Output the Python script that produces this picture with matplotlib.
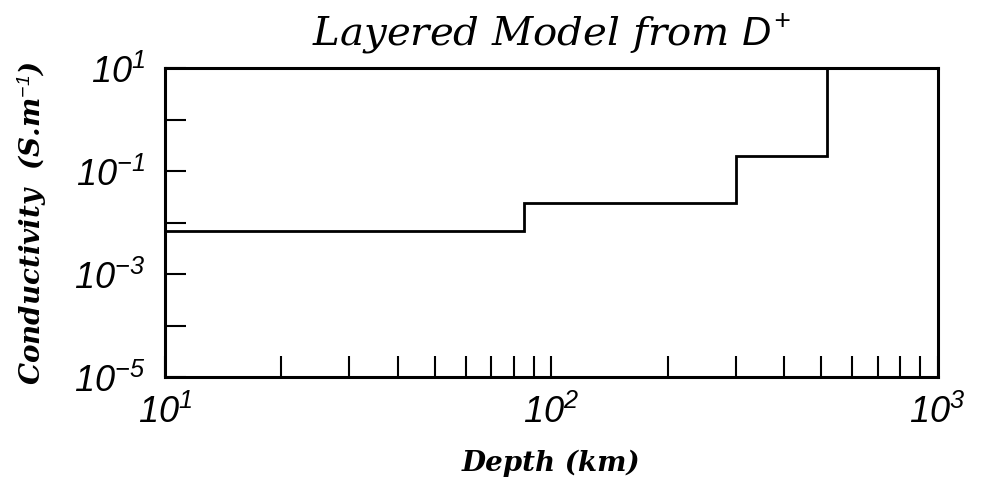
import matplotlib
matplotlib.use("Agg")
import matplotlib.pyplot as plt
from matplotlib.ticker import NullFormatter

# layer boundaries (km) and conductivity of each layer (S/m)
depth_edges = [10, 85, 300, 516]
conductivity = [6.8e-3, 2.4e-2, 0.195, 10]

x_ticks = [10, 100, 1000]
x_ticklabels = ['$10^{1}$', '$10^{2}$', '$10^{3}$']
y_ticks = [1e-5, 1e-3, 1e-1, 1e1]
y_ticklabels = ['$10^{-5}$', '$10^{-3}$', '$10^{-1}$', '$10^{1}$']
y_minor = [1e-4, 1e-2, 1]

plt.rcParams['mathtext.fontset'] = 'custom'
plt.rcParams['mathtext.rm'] = 'Liberation Sans:italic'
plt.rcParams['mathtext.it'] = 'Liberation Sans:italic'

fig = plt.figure(figsize=(9.88, 4.8), dpi=100)
ax = fig.add_axes([0.167, 0.2146, 0.782, 0.6434])

# step outline: horizontal run for each layer, then vertical jump
xs = []
ys = []
for i in range(len(depth_edges)):
    xs.append(depth_edges[i])
    ys.append(conductivity[i])
    if i + 1 < len(depth_edges):
        xs.append(depth_edges[i + 1])
        ys.append(conductivity[i])
ax.plot(xs, ys, color='black', lw=2.0, solid_joinstyle='miter')

ax.set_xscale('log')
ax.set_yscale('log')
ax.set_xlim(10, 1000)
ax.set_ylim(1e-5, 10)

ax.set_xticks(x_ticks)
ax.set_xticklabels(x_ticklabels, fontsize=26)
ax.set_yticks(y_ticks)
ax.set_yticklabels(y_ticklabels, fontsize=26)
ax.set_xticks([m * d for d in [10, 100] for m in range(2, 10)], minor=True)
ax.set_yticks(y_minor, minor=True)
ax.xaxis.set_minor_formatter(NullFormatter())
ax.yaxis.set_minor_formatter(NullFormatter())

ax.tick_params(which='both', direction='in', length=15, width=1.5, top=False, right=False)
ax.tick_params(axis='x', which='major', pad=12)
ax.tick_params(axis='y', which='major', pad=14)

for s in ax.spines.values():
    s.set_linewidth(2.2)

ax.set_title('Layered Model from $\\mathit{D}^{+}$', family='DejaVu Serif', style='italic',
             fontsize=29, pad=16)
ax.set_xlabel('Depth (km)', family='DejaVu Serif', style='italic', weight='bold',
              fontsize=20, labelpad=14)
ax.set_ylabel('Conductivity  (S.m$^{-1}$)', family='DejaVu Serif', style='italic',
              weight='bold', fontsize=20, labelpad=18)

fig.savefig('out.png', dpi=100)
